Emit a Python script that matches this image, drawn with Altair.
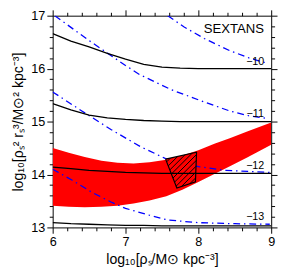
import altair as alt
import pandas as pd

# ---------------- data ----------------
x_ticks = [6.0, 6.2, 6.4, 6.6, 6.8, 7.0, 7.2, 7.4, 7.6, 7.8, 8.0, 8.2, 8.4, 8.6, 8.8, 9.0]
y_ticks = [13.0, 13.2, 13.4, 13.6, 13.8, 14.0, 14.2, 14.4, 14.6, 14.8, 15.0,
           15.2, 15.4, 15.6, 15.8, 16.0, 16.2, 16.4, 16.6, 16.8, 17.0]

# black solid curves
black_x = [6.0, 6.25, 6.5, 6.75, 7.0, 7.25, 7.5, 7.75, 8.0, 8.5, 9.0]
black_m10 = [16.66, 16.52, 16.41, 16.29, 16.18, 16.08, 16.03, 16.01, 16.0, 16.0, 16.0]
black_m11 = [15.34, 15.22, 15.12, 15.07, 15.04, 15.02, 15.01, 15.0, 15.0, 15.0, 15.0]
black_m12 = [14.14, 14.11, 14.08, 14.06, 14.04, 14.03, 14.02, 14.02, 14.02, 14.02, 14.02]
black_m13 = [13.09, 13.07, 13.06, 13.05, 13.04, 13.04, 13.03, 13.03, 13.03, 13.03, 13.03]

# blue dash-dot curves
blue_m10_x = [7.58, 7.8, 8.08, 8.43, 8.7, 8.95]
blue_m10_y = [17.0, 16.79, 16.57, 16.34, 16.2, 16.1]
blue_m11_x = [6.03, 6.5, 7.0, 7.19, 7.63, 8.08, 8.43, 8.69, 8.95]
blue_m11_y = [17.0, 16.53, 16.06, 15.89, 15.60, 15.37, 15.2, 15.11, 15.06]
blue_m12_x = [6.0, 6.4, 6.8, 7.2, 7.55, 8.0, 8.36, 8.98]
blue_m12_y = [15.56, 15.2, 14.85, 14.53, 14.3, 14.15, 14.08, 14.04]
blue_m13_x = [6.0, 6.27, 6.53, 6.8, 7.0, 7.33, 7.58, 8.0, 8.5, 8.98]
blue_m13_y = [14.1, 13.89, 13.67, 13.48, 13.36, 13.23, 13.14, 13.09, 13.07, 13.06]

# red band
band_x = [6.0, 6.22, 6.44, 6.67, 6.89, 7.11, 7.33, 7.56, 7.78, 8.0, 8.22, 8.44, 8.67, 9.0]
band_hi = [14.50, 14.41, 14.33, 14.26, 14.22, 14.21, 14.23, 14.28, 14.36, 14.46, 14.58, 14.69, 14.81, 14.98]
band_lo = [13.41, 13.39, 13.38, 13.39, 13.41, 13.45, 13.51, 13.59, 13.71, 13.86, 14.01, 14.16, 14.32, 14.56]

# hatched quadrilateral corners
box_x = [7.55, 7.975, 7.96, 7.705]
box_y = [14.29, 14.42, 13.86, 13.745]

# curve labels
label_text = ["\u221210", "\u221211", "\u221212", "\u221213"]
label_x = [8.78, 8.78, 8.78, 8.78]
label_y = [16.12, 15.15, 14.16, 13.2]

name_text = ["SEXTANS"]
name_x = [8.9]
name_y = [16.75]

x_title = "log\u2081\u2080[\u03c1\u209b/M\u2299 kpc\u207b\u00b3]"
y_title = "log\u2081\u2080[\u03c1\u209b\u00b2 r\u209b\u00b3/M\u2299\u00b2 kpc\u207b\u00b3]"

# ---------------- tables ----------------
black_df = pd.concat([
    pd.DataFrame({"x": black_x, "y": ys, "level": lv})
    for lv, ys in [("-10", black_m10), ("-11", black_m11), ("-12", black_m12), ("-13", black_m13)]
])
blue_df = pd.concat([
    pd.DataFrame({"x": xs, "y": ys, "level": lv})
    for lv, xs, ys in [("-10", blue_m10_x, blue_m10_y), ("-11", blue_m11_x, blue_m11_y),
                       ("-12", blue_m12_x, blue_m12_y), ("-13", blue_m13_x, blue_m13_y)]
])
band_df = pd.DataFrame({"x": band_x, "lo": band_lo, "hi": band_hi})

# polygon -> area (vertical slices at vertex x positions)
poly = list(zip(box_x, box_y))
n = len(poly)
fill_rows = []
for xv in sorted(set(box_x)):
    ys = []
    for i in range(n):
        (x0, y0), (x1, y1) = poly[i], poly[(i + 1) % n]
        if x0 != x1 and min(x0, x1) - 1e-12 <= xv <= max(x0, x1) + 1e-12:
            t = (xv - x0) / (x1 - x0)
            ys.append(y0 + t * (y1 - y0))
    fill_rows.append({"x": xv, "lo": min(ys), "hi": max(ys)})
box_fill_df = pd.DataFrame(fill_rows)

outline_df = pd.DataFrame({
    "x": box_x + [box_x[0]],
    "y": box_y + [box_y[0]],
    "o": list(range(n + 1)),
})

# hatch lines at 45 degrees in screen space, clipped to the polygon
W, H = 225, 218
sx, sy = W / 3.0, H / 4.0
P = [(x * sx, y * sy) for x, y in poly]
g = [X - Y for X, Y in P]
cmin, cmax = min(g), max(g)
spacing = 5.8
nl = int((cmax - cmin) / spacing)
start = cmin + ((cmax - cmin) - spacing * (nl - 1)) / 2.0
hatch_rows = []
for k in range(nl):
    c = start + k * spacing
    pts = []
    for i in range(n):
        (X0, Y0), (X1, Y1) = P[i], P[(i + 1) % n]
        g0, g1 = (X0 - Y0) - c, (X1 - Y1) - c
        if g0 * g1 < 0:
            t = g0 / (g0 - g1)
            pts.append((X0 + t * (X1 - X0), Y0 + t * (Y1 - Y0)))
    if len(pts) == 2:
        hatch_rows.append({"x": pts[0][0] / sx, "y": pts[0][1] / sy,
                           "x2": pts[1][0] / sx, "y2": pts[1][1] / sy})
hatch_df = pd.DataFrame(hatch_rows)

labels_df = pd.DataFrame({"x": label_x, "y": label_y, "t": label_text})
name_df = pd.DataFrame({"x": name_x, "y": name_y, "t": name_text})

# ---------------- chart ----------------
FONT = "Liberation Sans"
xs = alt.Scale(domain=[6, 9], nice=False, zero=False)
ys_ = alt.Scale(domain=[13, 17], nice=False, zero=False)
major = "datum.value % 1 === 0"
tick_cond = {"condition": {"test": major, "value": 6}, "value": 3.5}
lab_expr = "datum.value % 1 === 0 ? format(datum.value, 'd') : ''"

ax_bottom = alt.Axis(values=x_ticks, labelExpr=lab_expr, tickSize=tick_cond, title=x_title,
                     labelPadding=3, titlePadding=4, labelFlush=False)
ax_left = alt.Axis(values=y_ticks, labelExpr=lab_expr, tickSize=tick_cond, title=y_title,
                   labelPadding=2, titlePadding=6, labelFlush=False)
ax_top = alt.Axis(orient="top", values=x_ticks, labels=False, tickSize=tick_cond, title="")
ax_right = alt.Axis(orient="right", values=y_ticks, labels=False, tickSize=tick_cond, title="")

band = alt.Chart(band_df).mark_area(color="#ff0000", clip=True).encode(
    x=alt.X("x:Q", scale=xs, axis=ax_top),
    y=alt.Y("lo:Q", scale=ys_, axis=ax_right),
    y2="hi:Q",
)

blue = alt.Chart(blue_df).mark_line(color="#0000ff", strokeWidth=1.3,
                                    strokeDash=[7, 4, 1.5, 4], clip=True).encode(
    x=alt.X("x:Q", scale=xs, axis=None),
    y=alt.Y("y:Q", scale=ys_, axis=None),
    detail="level:N",
)

box_fill = alt.Chart(box_fill_df).mark_area(color="#ff0000").encode(
    x=alt.X("x:Q", scale=xs, axis=None),
    y=alt.Y("lo:Q", scale=ys_, axis=None),
    y2="hi:Q",
)

hatch = alt.Chart(hatch_df).mark_rule(color="black", strokeWidth=1).encode(
    x=alt.X("x:Q", scale=xs, axis=None),
    y=alt.Y("y:Q", scale=ys_, axis=None),
    x2="x2:Q",
    y2="y2:Q",
)

outline = alt.Chart(outline_df).mark_line(color="black", strokeWidth=1.2).encode(
    x=alt.X("x:Q", scale=xs, axis=None),
    y=alt.Y("y:Q", scale=ys_, axis=None),
    order="o:Q",
)

black = alt.Chart(black_df).mark_line(color="black", strokeWidth=1.3, clip=True).encode(
    x=alt.X("x:Q", scale=xs, axis=ax_bottom),
    y=alt.Y("y:Q", scale=ys_, axis=ax_left),
    detail="level:N",
)

labels = alt.Chart(labels_df).mark_text(font=FONT, fontSize=11, color="black",
                                        align="center", baseline="middle").encode(
    x=alt.X("x:Q", scale=xs, axis=None),
    y=alt.Y("y:Q", scale=ys_, axis=None),
    text="t:N",
)

name = alt.Chart(name_df).mark_text(font=FONT, fontSize=13.5, color="black",
                                    align="right", baseline="middle").encode(
    x=alt.X("x:Q", scale=xs, axis=None),
    y=alt.Y("y:Q", scale=ys_, axis=None),
    text="t:N",
)

chart = alt.layer(band, blue, box_fill, hatch, outline, black, labels, name).resolve_axis(
    x="independent", y="independent"
).properties(
    width=W, height=H,
    autosize=alt.AutoSizeParams(type="none"),
    padding={"left": 46, "top": 4, "right": 7, "bottom": 43},
).configure_view(strokeWidth=0).configure_axis(
    grid=False, domainColor="black", tickColor="black", labelColor="black",
    titleColor="black", labelFont=FONT, titleFont=FONT, labelFontSize=13,
    titleFontSize=14.5, titleFontWeight="normal", tickWidth=1, domainWidth=1,
)

chart.save("out.html", embed_options={"renderer": "svg", "actions": False})
